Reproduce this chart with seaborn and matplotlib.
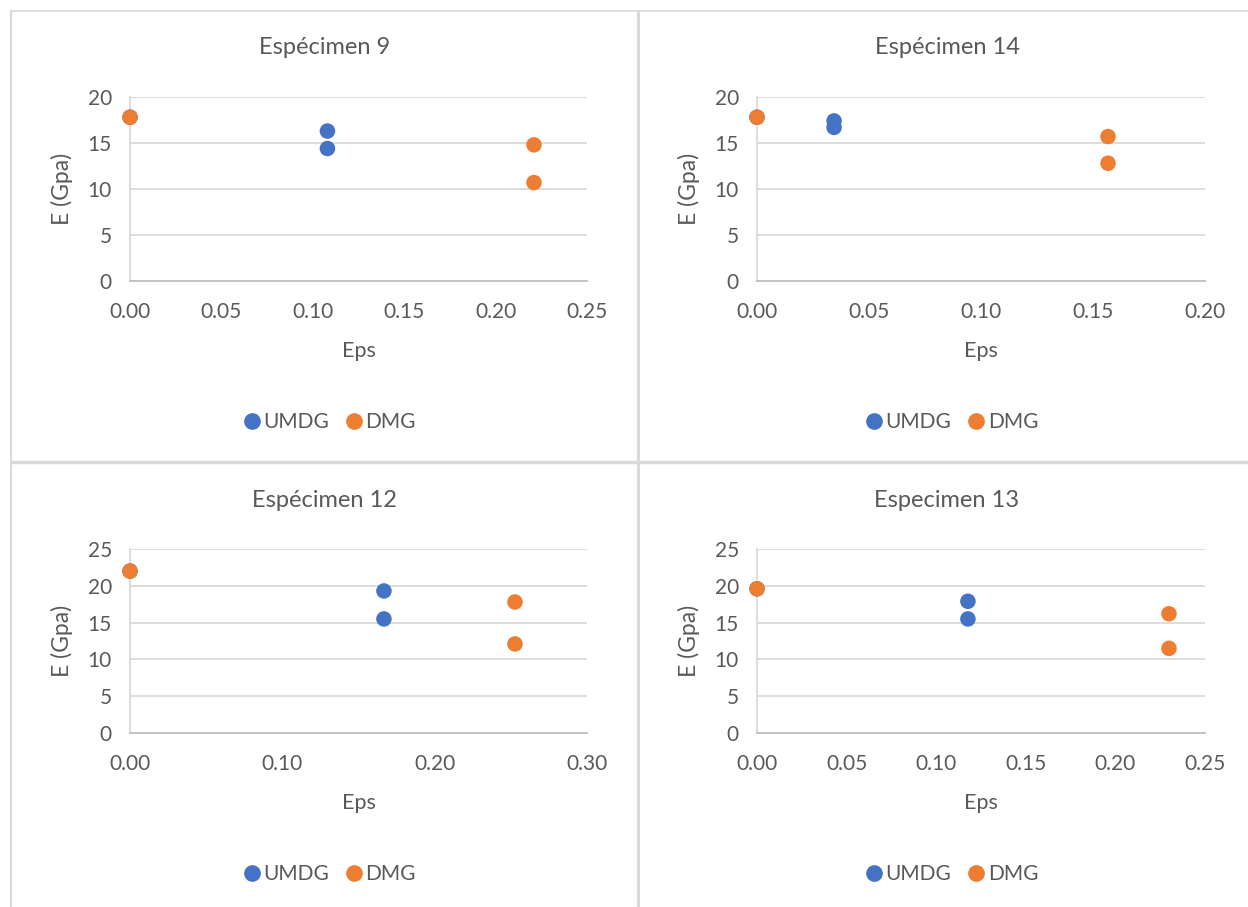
import matplotlib
matplotlib.use("Agg")
import matplotlib.pyplot as plt
import seaborn as sns
import pandas as pd
from matplotlib.lines import Line2D
from matplotlib.ticker import FormatStrFormatter

sns.set_theme(style="white")
plt.rcParams['font.family'] = ['Lato', 'DejaVu Sans']

# ---- data ----
titles = ["Espécimen 9", "Espécimen 14", "Espécimen 12", "Especimen 13"]
umdg_eps = [[0.0, 0.108, 0.108], [0.0, 0.0344, 0.0344], [0.0, 0.1667, 0.1667], [0.0, 0.1177, 0.1177]]
umdg_E = [[17.8, 16.3, 14.4], [17.8, 17.4, 16.7], [22.0, 19.3, 15.5], [19.6, 17.9, 15.5]]
dmg_eps = [[0.0, 0.221, 0.221], [0.0, 0.1567, 0.1567], [0.0, 0.2527, 0.2527], [0.0, 0.2299, 0.2299]]
dmg_E = [[17.8, 14.8, 10.7], [17.8, 15.7, 12.8], [22.0, 17.8, 12.1], [19.6, 16.2, 11.5]]
x_ticks = [[0, 0.05, 0.10, 0.15, 0.20, 0.25], [0, 0.05, 0.10, 0.15, 0.20],
           [0, 0.10, 0.20, 0.30], [0, 0.05, 0.10, 0.15, 0.20, 0.25]]
y_ticks = [[0, 5, 10, 15, 20], [0, 5, 10, 15, 20], [0, 5, 10, 15, 20, 25], [0, 5, 10, 15, 20, 25]]
series_names = ["UMDG", "DMG"]
x_label = "Eps"
y_label = "E (Gpa)"

BLUE = "#4472C4"
ORANGE = "#ED7D31"
TXT = "#595959"
GRID = "#D9D9D9"

W, H = 1248, 907
fig = plt.figure(figsize=(W / 100, H / 100), dpi=100)
fig.patch.set_facecolor("white")

# panel boxes in pixel coords (left, right, top, bottom)
boxes = [(130, 587, 97, 281), (757, 1205, 97, 281), (130, 587, 549, 733), (757, 1205, 549, 733)]
FS = 15

def fx(px):
    return px / W

def fy(py):
    return 1 - py / H

for i, (l, r, t, b) in enumerate(boxes):
    ax = fig.add_axes([fx(l), fy(b), (r - l) / W, (b - t) / H])
    df = pd.DataFrame({
        "Eps": umdg_eps[i] + dmg_eps[i],
        "E": umdg_E[i] + dmg_E[i],
        "Serie": [series_names[0]] * len(umdg_eps[i]) + [series_names[1]] * len(dmg_eps[i]),
    })
    sns.scatterplot(data=df, x="Eps", y="E", hue="Serie",
                    palette={series_names[0]: BLUE, series_names[1]: ORANGE},
                    s=125, linewidth=0, ax=ax, legend=False, clip_on=False, zorder=3)
    ax.set_xlim(x_ticks[i][0], x_ticks[i][-1])
    ax.set_ylim(y_ticks[i][0], y_ticks[i][-1])
    ax.set_xticks(x_ticks[i])
    ax.set_yticks(y_ticks[i])
    ax.xaxis.set_major_formatter(FormatStrFormatter("%.2f"))
    ax.set_xlabel("")
    ax.set_ylabel("")
    ax.grid(axis="y", color=GRID, linewidth=1.3)
    ax.grid(axis="x", visible=False)
    ax.set_axisbelow(True)
    for s in ["top", "right"]:
        ax.spines[s].set_visible(False)
    ax.spines["left"].set_color(GRID)
    ax.spines["left"].set_linewidth(1.3)
    ax.spines["bottom"].set_color("#BFBFBF")
    ax.spines["bottom"].set_linewidth(1.3)
    ax.tick_params(axis="both", length=0, labelsize=FS, colors=TXT)
    ax.tick_params(axis="x", pad=15)
    ax.tick_params(axis="y", pad=13)
    ax.set_facecolor("white")

    cx = (l + r) / 2
    fig.text(fx(cx - 34), fy(t - 49), titles[i], ha="center", va="center", fontsize=17, color=TXT)
    fig.text(fx(cx), fy(b + 70), x_label, ha="center", va="center", fontsize=15.5, color=TXT)
    fig.text(fx(l - 68), fy((t + b) / 2), y_label, ha="center", va="center",
             rotation=90, fontsize=16.5, color=TXT)
    handles = [Line2D([], [], marker="o", linestyle="", color=BLUE, markersize=11),
               Line2D([], [], marker="o", linestyle="", color=ORANGE, markersize=11)]
    fig.legend(handles, series_names, loc="center", bbox_to_anchor=(fx(cx - 30), fy(b + 141)),
               ncol=2, frameon=False, fontsize=FS, labelcolor=TXT,
               handletextpad=0.05, columnspacing=0.7, handlelength=1.0)

# panel borders
bc = "#D9D9D9"
fig.add_artist(Line2D([fx(11), fx(11)], [fy(11), fy(H)], color=bc, linewidth=1.5))
fig.add_artist(Line2D([fx(11), fx(W)], [fy(11), fy(11)], color=bc, linewidth=1.2))
fig.add_artist(Line2D([fx(638), fx(638)], [fy(11), fy(H)], color=bc, linewidth=2.2))
fig.add_artist(Line2D([fx(11), fx(W)], [fy(462), fy(462)], color=bc, linewidth=2.5))

fig.savefig("out.png", dpi=100, facecolor="white")
